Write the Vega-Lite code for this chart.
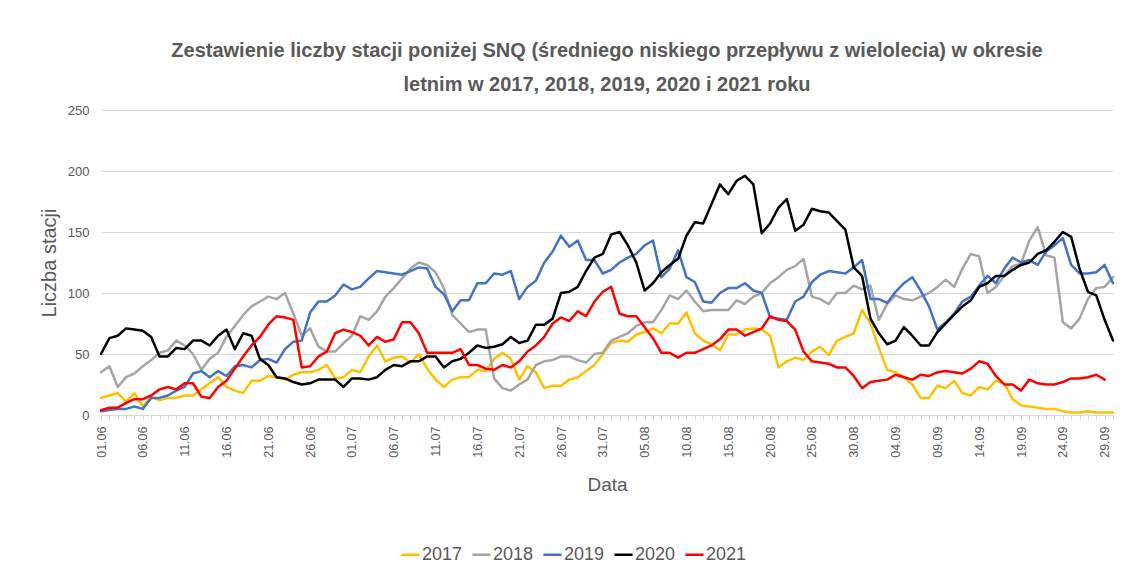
{
  "$schema": "https://vega.github.io/schema/vega-lite/v6.json",
  "autosize": {"type": "none"},
  "width": 1012,
  "height": 305,
  "padding": {"left": 101, "top": 110, "right": 14, "bottom": 156},
  "background": "white",
  "config": {"view": {"stroke": null}},
  "title": {
    "text": ["Zestawienie liczby stacji poniżej SNQ (średniego niskiego przepływu z wielolecia) w okresie", "letnim w 2017, 2018, 2019, 2020 i 2021 roku"],
    "font": "Liberation Sans",
    "fontSize": 20,
    "fontWeight": "bold",
    "color": "#595959",
    "anchor": "middle",
    "lineHeight": 34,
    "offset": 9
  },
  "data": {"values": [
    {"date":"2021-06-01","2017":14,"2018":35,"2019":3,"2020":50,"2021":4},
    {"date":"2021-06-02","2017":16,"2018":40,"2019":4,"2020":63,"2021":6},
    {"date":"2021-06-03","2017":18,"2018":23,"2019":5,"2020":65,"2021":6},
    {"date":"2021-06-04","2017":11,"2018":31,"2019":5,"2020":71,"2021":10},
    {"date":"2021-06-05","2017":18,"2018":34,"2019":7,"2020":70,"2021":13},
    {"date":"2021-06-06","2017":7,"2018":40,"2019":5,"2020":69,"2021":13},
    {"date":"2021-06-07","2017":15,"2018":45,"2019":14,"2020":64,"2021":16},
    {"date":"2021-06-08","2017":12,"2018":51,"2019":14,"2020":48,"2021":21},
    {"date":"2021-06-09","2017":14,"2018":53,"2019":16,"2020":48,"2021":23},
    {"date":"2021-06-10","2017":14,"2018":61,"2019":20,"2020":55,"2021":21},
    {"date":"2021-06-11","2017":16,"2018":57,"2019":23,"2020":54,"2021":26},
    {"date":"2021-06-12","2017":16,"2018":50,"2019":34,"2020":61,"2021":26},
    {"date":"2021-06-13","2017":21,"2018":37,"2019":36,"2020":61,"2021":15},
    {"date":"2021-06-14","2017":26,"2018":46,"2019":31,"2020":57,"2021":14},
    {"date":"2021-06-15","2017":31,"2018":51,"2019":36,"2020":65,"2021":23},
    {"date":"2021-06-16","2017":23,"2018":64,"2019":32,"2020":70,"2021":28},
    {"date":"2021-06-17","2017":20,"2018":73,"2019":40,"2020":54,"2021":38},
    {"date":"2021-06-18","2017":18,"2018":82,"2019":41,"2020":67,"2021":48},
    {"date":"2021-06-19","2017":28,"2018":89,"2019":39,"2020":65,"2021":57},
    {"date":"2021-06-20","2017":28,"2018":93,"2019":45,"2020":46,"2021":64},
    {"date":"2021-06-21","2017":32,"2018":97,"2019":46,"2020":41,"2021":74},
    {"date":"2021-06-22","2017":31,"2018":95,"2019":43,"2020":31,"2021":81},
    {"date":"2021-06-23","2017":29,"2018":100,"2019":54,"2020":30,"2021":80},
    {"date":"2021-06-24","2017":33,"2018":83,"2019":60,"2020":27,"2021":78},
    {"date":"2021-06-25","2017":35,"2018":65,"2019":61,"2020":25,"2021":39},
    {"date":"2021-06-26","2017":35,"2018":71,"2019":84,"2020":26,"2021":40},
    {"date":"2021-06-27","2017":37,"2018":56,"2019":93,"2020":29,"2021":48},
    {"date":"2021-06-28","2017":41,"2018":52,"2019":93,"2020":29,"2021":52},
    {"date":"2021-06-29","2017":30,"2018":52,"2019":98,"2020":29,"2021":67},
    {"date":"2021-06-30","2017":31,"2018":59,"2019":107,"2020":23,"2021":70},
    {"date":"2021-07-01","2017":37,"2018":65,"2019":103,"2020":30,"2021":68},
    {"date":"2021-07-02","2017":35,"2018":81,"2019":105,"2020":30,"2021":65},
    {"date":"2021-07-03","2017":48,"2018":78,"2019":112,"2020":29,"2021":57},
    {"date":"2021-07-04","2017":57,"2018":85,"2019":118,"2020":31,"2021":64},
    {"date":"2021-07-05","2017":44,"2018":97,"2019":117,"2020":37,"2021":60},
    {"date":"2021-07-06","2017":47,"2018":104,"2019":116,"2020":41,"2021":62},
    {"date":"2021-07-07","2017":48,"2018":112,"2019":115,"2020":40,"2021":76},
    {"date":"2021-07-08","2017":43,"2018":120,"2019":118,"2020":44,"2021":76},
    {"date":"2021-07-09","2017":50,"2018":125,"2019":121,"2020":44,"2021":67},
    {"date":"2021-07-10","2017":38,"2018":123,"2019":120,"2020":48,"2021":51},
    {"date":"2021-07-11","2017":29,"2018":117,"2019":105,"2020":48,"2021":51},
    {"date":"2021-07-12","2017":23,"2018":104,"2019":99,"2020":39,"2021":51},
    {"date":"2021-07-13","2017":29,"2018":82,"2019":85,"2020":44,"2021":51},
    {"date":"2021-07-14","2017":31,"2018":75,"2019":94,"2020":46,"2021":54},
    {"date":"2021-07-15","2017":31,"2018":68,"2019":94,"2020":51,"2021":41},
    {"date":"2021-07-16","2017":37,"2018":70,"2019":108,"2020":57,"2021":41},
    {"date":"2021-07-17","2017":36,"2018":70,"2019":108,"2020":55,"2021":38},
    {"date":"2021-07-18","2017":46,"2018":30,"2019":116,"2020":56,"2021":37},
    {"date":"2021-07-19","2017":51,"2018":22,"2019":115,"2020":58,"2021":41},
    {"date":"2021-07-20","2017":46,"2018":20,"2019":118,"2020":64,"2021":39},
    {"date":"2021-07-21","2017":29,"2018":25,"2019":95,"2020":59,"2021":44},
    {"date":"2021-07-22","2017":40,"2018":29,"2019":105,"2020":61,"2021":52},
    {"date":"2021-07-23","2017":35,"2018":41,"2019":110,"2020":74,"2021":57},
    {"date":"2021-07-24","2017":22,"2018":44,"2019":125,"2020":74,"2021":64},
    {"date":"2021-07-25","2017":24,"2018":45,"2019":134,"2020":79,"2021":75},
    {"date":"2021-07-26","2017":24,"2018":48,"2019":147,"2020":100,"2021":80},
    {"date":"2021-07-27","2017":29,"2018":48,"2019":138,"2020":101,"2021":77},
    {"date":"2021-07-28","2017":31,"2018":45,"2019":143,"2020":105,"2021":85},
    {"date":"2021-07-29","2017":36,"2018":43,"2019":127,"2020":118,"2021":81},
    {"date":"2021-07-30","2017":41,"2018":50,"2019":127,"2020":129,"2021":93},
    {"date":"2021-07-31","2017":50,"2018":51,"2019":116,"2020":132,"2021":101},
    {"date":"2021-08-01","2017":59,"2018":61,"2019":119,"2020":148,"2021":105},
    {"date":"2021-08-02","2017":61,"2018":64,"2019":125,"2020":150,"2021":83},
    {"date":"2021-08-03","2017":60,"2018":67,"2019":129,"2020":139,"2021":81},
    {"date":"2021-08-04","2017":66,"2018":73,"2019":132,"2020":125,"2021":81},
    {"date":"2021-08-05","2017":68,"2018":76,"2019":139,"2020":102,"2021":72},
    {"date":"2021-08-06","2017":71,"2018":76,"2019":143,"2020":108,"2021":63},
    {"date":"2021-08-07","2017":67,"2018":86,"2019":113,"2020":117,"2021":51},
    {"date":"2021-08-08","2017":75,"2018":98,"2019":120,"2020":123,"2021":51},
    {"date":"2021-08-09","2017":75,"2018":95,"2019":135,"2020":128,"2021":47},
    {"date":"2021-08-10","2017":84,"2018":102,"2019":113,"2020":147,"2021":51},
    {"date":"2021-08-11","2017":67,"2018":93,"2019":109,"2020":158,"2021":51},
    {"date":"2021-08-12","2017":61,"2018":85,"2019":93,"2020":157,"2021":54},
    {"date":"2021-08-13","2017":58,"2018":86,"2019":92,"2020":173,"2021":57},
    {"date":"2021-08-14","2017":53,"2018":86,"2019":100,"2020":189,"2021":62},
    {"date":"2021-08-15","2017":66,"2018":86,"2019":104,"2020":181,"2021":70},
    {"date":"2021-08-16","2017":66,"2018":94,"2019":104,"2020":192,"2021":70},
    {"date":"2021-08-17","2017":70,"2018":91,"2019":108,"2020":196,"2021":65},
    {"date":"2021-08-18","2017":71,"2018":97,"2019":102,"2020":189,"2021":68},
    {"date":"2021-08-19","2017":70,"2018":100,"2019":100,"2020":149,"2021":71},
    {"date":"2021-08-20","2017":65,"2018":108,"2019":80,"2020":157,"2021":81},
    {"date":"2021-08-21","2017":39,"2018":113,"2019":79,"2020":170,"2021":78},
    {"date":"2021-08-22","2017":44,"2018":119,"2019":78,"2020":177,"2021":77},
    {"date":"2021-08-23","2017":47,"2018":122,"2019":93,"2020":151,"2021":70},
    {"date":"2021-08-24","2017":45,"2018":128,"2019":97,"2020":156,"2021":52},
    {"date":"2021-08-25","2017":52,"2018":97,"2019":109,"2020":169,"2021":44},
    {"date":"2021-08-26","2017":56,"2018":95,"2019":115,"2020":167,"2021":43},
    {"date":"2021-08-27","2017":49,"2018":91,"2019":118,"2020":166,"2021":42},
    {"date":"2021-08-28","2017":61,"2018":100,"2019":117,"2020":159,"2021":39},
    {"date":"2021-08-29","2017":64,"2018":100,"2019":116,"2020":152,"2021":39},
    {"date":"2021-08-30","2017":67,"2018":106,"2019":121,"2020":121,"2021":32},
    {"date":"2021-08-31","2017":86,"2018":103,"2019":127,"2020":114,"2021":22},
    {"date":"2021-09-01","2017":75,"2018":106,"2019":95,"2020":79,"2021":27},
    {"date":"2021-09-02","2017":55,"2018":78,"2019":95,"2020":67,"2021":28},
    {"date":"2021-09-03","2017":37,"2018":91,"2019":92,"2020":58,"2021":29},
    {"date":"2021-09-04","2017":35,"2018":98,"2019":101,"2020":61,"2021":33},
    {"date":"2021-09-05","2017":31,"2018":95,"2019":108,"2020":72,"2021":31},
    {"date":"2021-09-06","2017":25,"2018":94,"2019":113,"2020":65,"2021":29},
    {"date":"2021-09-07","2017":14,"2018":97,"2019":102,"2020":57,"2021":33},
    {"date":"2021-09-08","2017":14,"2018":100,"2019":89,"2020":57,"2021":32},
    {"date":"2021-09-09","2017":24,"2018":105,"2019":70,"2020":68,"2021":35},
    {"date":"2021-09-10","2017":22,"2018":111,"2019":76,"2020":75,"2021":36},
    {"date":"2021-09-11","2017":28,"2018":105,"2019":83,"2020":82,"2021":35},
    {"date":"2021-09-12","2017":18,"2018":120,"2019":93,"2020":89,"2021":34},
    {"date":"2021-09-13","2017":16,"2018":132,"2019":97,"2020":94,"2021":38},
    {"date":"2021-09-14","2017":23,"2018":130,"2019":106,"2020":105,"2021":44},
    {"date":"2021-09-15","2017":21,"2018":100,"2019":114,"2020":108,"2021":42},
    {"date":"2021-09-16","2017":28,"2018":105,"2019":108,"2020":114,"2021":32},
    {"date":"2021-09-17","2017":26,"2018":114,"2019":120,"2020":114,"2021":25},
    {"date":"2021-09-18","2017":13,"2018":122,"2019":129,"2020":119,"2021":25},
    {"date":"2021-09-19","2017":8,"2018":124,"2019":125,"2020":123,"2021":20},
    {"date":"2021-09-20","2017":7,"2018":143,"2019":127,"2020":125,"2021":29},
    {"date":"2021-09-21","2017":6,"2018":154,"2019":123,"2020":132,"2021":26},
    {"date":"2021-09-22","2017":5,"2018":131,"2019":134,"2020":135,"2021":25},
    {"date":"2021-09-23","2017":5,"2018":129,"2019":139,"2020":142,"2021":25},
    {"date":"2021-09-24","2017":3,"2018":76,"2019":145,"2020":150,"2021":27},
    {"date":"2021-09-25","2017":2,"2018":71,"2019":123,"2020":146,"2021":30},
    {"date":"2021-09-26","2017":2,"2018":79,"2019":116,"2020":120,"2021":30},
    {"date":"2021-09-27","2017":3,"2018":95,"2019":116,"2020":101,"2021":31},
    {"date":"2021-09-28","2017":2,"2018":104,"2019":117,"2020":98,"2021":33},
    {"date":"2021-09-29","2017":2,"2018":105,"2019":123,"2020":78,"2021":29},
    {"date":"2021-09-30","2017":2,"2018":113,"2019":108,"2020":61}
  ]},
  "transform": [
    {"fold": ["2017", "2018", "2019", "2020", "2021"], "as": ["Rok", "Liczba"]}
  ],
  "mark": {"type": "line", "strokeWidth": 2.5, "strokeJoin": "round", "strokeCap": "round", "interpolate": "linear"},
  "encoding": {
    "x": {
      "field": "date",
      "type": "temporal",
      "scale": {"type": "utc", "nice": false},
      "axis": {
        "title": "Data",
        "titleFont": "Liberation Sans",
        "titleFontSize": 19,
        "titleFontWeight": "normal",
        "titleColor": "#595959",
        "titlePadding": 18,
        "tickCount": {"interval": "day", "step": 1},
        "labelExpr": "(round((datum.value - utc(2021,5,1)) / 86400000) % 5 == 0) ? utcFormat(datum.value, '%d.%m') : ''",
        "labelOverlap": false,
        "labelAngle": -90,
        "labelFont": "Liberation Sans",
        "labelFontSize": 12.5,
        "labelColor": "#595959",
        "labelPadding": 6,
        "tickColor": "#d9d9d9",
        "tickSize": 5,
        "domainColor": "#d9d9d9",
        "domainWidth": 1,
        "grid": false
      }
    },
    "y": {
      "field": "Liczba",
      "type": "quantitative",
      "scale": {"domain": [0, 250], "nice": false},
      "axis": {
        "title": "Liczba stacji",
        "titleFont": "Liberation Sans",
        "titleFontSize": 20,
        "titleFontWeight": "normal",
        "titleColor": "#595959",
        "titlePadding": 8,
        "values": [0, 50, 100, 150, 200, 250],
        "labelFont": "Liberation Sans",
        "labelFontSize": 13,
        "labelColor": "#595959",
        "labelPadding": 12,
        "domain": false,
        "ticks": false,
        "gridColor": "#d9d9d9",
        "gridWidth": 1.2
      }
    },
    "color": {
      "field": "Rok",
      "type": "nominal",
      "scale": {"domain": ["2017", "2018", "2019", "2020", "2021"], "range": ["#FFC000", "#A5A5A5", "#4472C4", "#000000", "#FF0000"]},
      "legend": {
        "title": null,
        "orient": "none",
        "direction": "horizontal",
        "columns": 5,
        "legendX": 299,
        "legendY": 434,
        "symbolType": "stroke",
        "symbolSize": 330,
        "symbolStrokeWidth": 2.5,
        "labelFont": "Liberation Sans",
        "labelFontSize": 18,
        "labelColor": "#595959",
        "labelOffset": 1,
        "columnPadding": 4
      }
    }
  }
}
